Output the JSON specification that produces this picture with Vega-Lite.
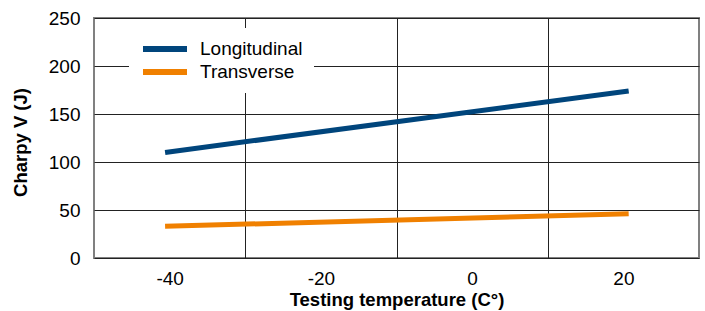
{
  "$schema": "https://vega.github.io/schema/vega-lite/v6.json",
  "autosize": {"type": "none"},
  "width": 605,
  "height": 240,
  "padding": {"left": 94, "top": 18, "right": 6, "bottom": 53},
  "config": {
    "font": "Liberation Sans",
    "view": {"stroke": "#808080", "strokeWidth": 2}
  },
  "data": {
    "values": [
      {"temp": -40.6, "charpy": 110, "series": "Longitudinal"},
      {"temp": 20.7, "charpy": 174, "series": "Longitudinal"},
      {"temp": -40.6, "charpy": 33, "series": "Transverse"},
      {"temp": 20.7, "charpy": 46, "series": "Transverse"}
    ]
  },
  "mark": {"type": "line", "strokeWidth": 5, "strokeCap": "butt"},
  "encoding": {
    "x": {
      "field": "temp",
      "type": "quantitative",
      "scale": {"domain": [-50, 30], "nice": false},
      "title": "Testing temperature (C°)",
      "axis": {
        "values": [-40, -30, -20, -10, 0, 10, 20],
        "labelExpr": "datum.value % 20 == 0 ? '' + datum.value : ''",
        "gridOpacity": {"condition": {"test": "datum.value % 20 != 0", "value": 1}, "value": 0},
        "grid": true,
        "gridColor": "#222222",
        "gridWidth": 1,
        "ticks": false,
        "domain": false,
        "labelFontSize": 19,
        "labelColor": "#000000",
        "labelPadding": 11,
        "titleFontSize": 18.5,
        "titleFontWeight": "bold",
        "titleColor": "#000000",
        "titleY": 41,
        "titleBaseline": "middle"
      }
    },
    "y": {
      "field": "charpy",
      "type": "quantitative",
      "scale": {"domain": [0, 250], "nice": false},
      "title": "Charpy V (J)",
      "axis": {
        "values": [0, 50, 100, 150, 200, 250],
        "grid": true,
        "gridColor": "#222222",
        "gridWidth": 1,
        "ticks": false,
        "domain": false,
        "labelFontSize": 19,
        "labelColor": "#000000",
        "labelPadding": 14,
        "titleFontSize": 18.5,
        "titleFontWeight": "bold",
        "titleColor": "#000000",
        "titleX": -74,
        "titleY": 124,
        "titleAngle": -90,
        "titleAlign": "center",
        "titleBaseline": "middle"
      }
    },
    "color": {
      "field": "series",
      "type": "nominal",
      "scale": {"domain": ["Longitudinal", "Transverse"], "range": ["#00457C", "#F08000"]},
      "legend": {
        "title": null,
        "orient": "none",
        "legendX": 35,
        "legendY": 10,
        "fillColor": "#ffffff",
        "padding": 11,
        "symbolType": "stroke",
        "symbolSize": 1936,
        "symbolStrokeWidth": 6,
        "clipHeight": 20,
        "labelFontSize": 19,
        "labelColor": "#000000",
        "labelOffset": 10,
        "rowPadding": 3
      }
    }
  }
}
